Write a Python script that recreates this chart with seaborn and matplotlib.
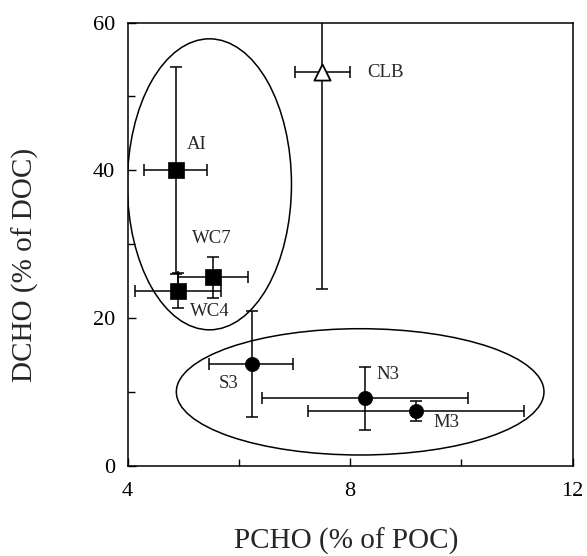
import pandas as pd
import seaborn as sns
import matplotlib.pyplot as plt
from matplotlib.patches import Ellipse

# data
sites = ["AI", "WC7", "WC4", "CLB", "S3", "N3", "M3"]
group = ["square", "square", "square", "triangle", "circle", "circle", "circle"]
pcho = [4.86, 5.54, 4.91, 7.49, 6.23, 8.27, 9.19]
dcho = [40.0, 25.5, 23.7, 53.3, 13.8, 9.2, 7.4]
pcho_lo = [4.30, 4.91, 4.13, 7.00, 5.47, 6.41, 7.24]
pcho_hi = [5.43, 6.16, 5.67, 8.00, 6.97, 10.12, 11.13]
dcho_lo = [26.0, 22.7, 21.3, 23.9, 6.6, 4.8, 6.1]
dcho_hi = [54.0, 28.2, 26.1, 82.7, 21.0, 13.4, 8.8]
label_x = [5.06, 5.15, 5.12, 8.30, 5.63, 8.47, 9.49]
label_y = [43.5, 30.8, 20.9, 53.2, 11.1, 12.3, 5.8]

df = pd.DataFrame({"site": sites, "group": group, "pcho": pcho, "dcho": dcho,
                   "x_lo": pcho_lo, "x_hi": pcho_hi, "y_lo": dcho_lo, "y_hi": dcho_hi})

sns.set_style("ticks")
plt.rcParams["font.family"] = ["Liberation Serif", "DejaVu Serif"]

fig = plt.figure(figsize=(5.87, 5.56), dpi=100)
ax = fig.add_axes([0.2175, 0.1624, 0.758, 0.797])

# error bars first
ax.errorbar(df["pcho"], df["dcho"],
            xerr=[df["pcho"] - df["x_lo"], df["x_hi"] - df["pcho"]],
            yerr=[df["dcho"] - df["y_lo"], df["y_hi"] - df["dcho"]],
            fmt="none", ecolor="black", elinewidth=1.1, capsize=4, capthick=1.1, zorder=2)

sq = df[df["group"] == "square"]
ci = df[df["group"] == "circle"]
tr = df[df["group"] == "triangle"]
sns.scatterplot(data=sq, x="pcho", y="dcho", marker="s", s=125, color="black",
                edgecolor="black", linewidth=0.5, ax=ax, zorder=3, legend=False)
sns.scatterplot(data=ci, x="pcho", y="dcho", marker="o", s=105, color="black",
                edgecolor="black", linewidth=0.5, ax=ax, zorder=3, legend=False)
sns.scatterplot(data=tr, x="pcho", y="dcho", marker="^", s=135, color="white",
                edgecolor="black", linewidth=1.3, ax=ax, zorder=3, legend=False)

for name, lx, ly in zip(sites, label_x, label_y):
    ax.text(lx, ly, name, fontsize=13.5, ha="left", va="center")

# grouping ellipses
ax.add_patch(Ellipse((5.47, 38.1), 2.95, 39.4, fill=False, edgecolor="black", linewidth=1.1, zorder=1))
ax.add_patch(Ellipse((8.18, 10.0), 6.61, 17.1, fill=False, edgecolor="black", linewidth=1.1, zorder=1))

ax.set_xlim(4, 12)
ax.set_ylim(0, 60)
ax.set_xticks([4, 8, 12])
ax.set_xticks([6, 10], minor=True)
ax.set_yticks([0, 20, 40, 60])
ax.set_yticks([10, 30, 50], minor=True)
ax.tick_params(axis="both", which="both", direction="in", top=False, right=False,
               labelsize=16, colors="black")
ax.tick_params(axis="both", which="major", length=6, width=1)
ax.tick_params(axis="x", which="major", pad=12)
ax.tick_params(axis="y", which="major", pad=9)
ax.tick_params(axis="both", which="minor", length=5, width=1)
for sp in ax.spines.values():
    sp.set_visible(True)
    sp.set_linewidth(1.1)
    sp.set_color("black")

ax.set_xlabel("PCHO (% of POC)", fontsize=21)
ax.set_ylabel("DCHO (% of DOC)", fontsize=21)
ax.xaxis.set_label_coords(0.49, -0.14)
ax.yaxis.set_label_coords(-0.2, 0.453)

fig.savefig("out.png", dpi=100)
